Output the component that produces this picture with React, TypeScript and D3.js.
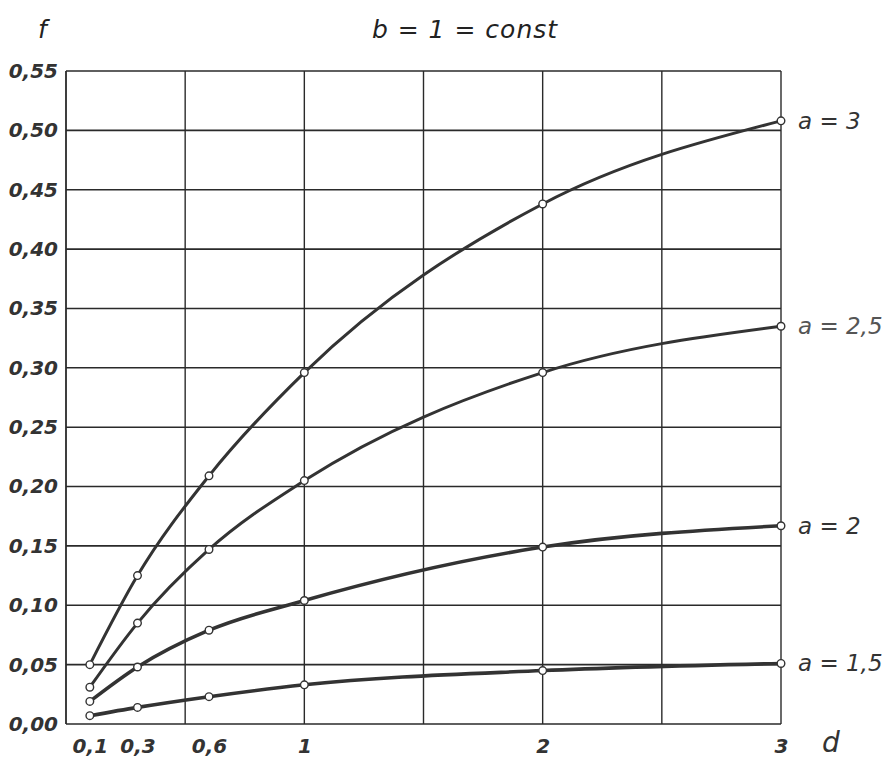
import React, { useEffect, useRef } from 'react';
import * as d3 from 'd3';

// values
const dValues = [0.1, 0.3, 0.6, 1, 2, 3];
const seriesNames = ['a = 3', 'a = 2,5', 'a = 2', 'a = 1,5'];
const fA3 = [0.050, 0.125, 0.209, 0.296, 0.438, 0.508];
const fA25 = [0.031, 0.085, 0.147, 0.205, 0.296, 0.335];
const fA2 = [0.019, 0.048, 0.079, 0.104, 0.149, 0.167];
const fA15 = [0.007, 0.014, 0.023, 0.033, 0.045, 0.051];
const seriesValues = [fA3, fA25, fA2, fA15];

const yTicks = d3.range(0, 0.5501, 0.05);
const xGrid = [0.5, 1, 1.5, 2, 2.5, 3];
const xTickLabels = [0.1, 0.3, 0.6, 1, 2, 3];

const fmt = (v: number, digits: number) => v.toFixed(digits).replace('.', ',');

export default function App() {
  const svgRef = useRef<SVGSVGElement>(null);

  useEffect(() => {
    const W = 888, H = 765;
    const margin = { top: 71, right: 107, bottom: 41, left: 66 };
    const width = W - margin.left - margin.right;
    const height = H - margin.top - margin.bottom;

    const x = d3.scaleLinear().domain([0, 3]).range([0, width]);
    const y = d3.scaleLinear().domain([0, 0.55]).range([height, 0]);

    const root = d3.select(svgRef.current);
    root.selectAll('*').remove();
    const svg = root.append('g').attr('transform', `translate(${margin.left},${margin.top})`);

    const font = "'DejaVu Sans', sans-serif";
    const ink = '#2a2a2a';

    // grid
    svg.append('g')
      .selectAll('line')
      .data(yTicks)
      .join('line')
      .attr('x1', 0).attr('x2', width)
      .attr('y1', d => y(d)).attr('y2', d => y(d))
      .attr('stroke', ink).attr('stroke-width', 1.6);

    svg.append('g')
      .selectAll('line')
      .data(xGrid)
      .join('line')
      .attr('x1', d => x(d)).attr('x2', d => x(d))
      .attr('y1', 0).attr('y2', height)
      .attr('stroke', ink).attr('stroke-width', 1.4);

    svg.append('line')
      .attr('x1', 0).attr('x2', 0).attr('y1', 0).attr('y2', height)
      .attr('stroke', ink).attr('stroke-width', 1.8);

    // axes (labels only)
    const yAxis = svg.append('g')
      .call(d3.axisLeft(y).tickValues(yTicks).tickSize(0).tickPadding(8).tickFormat(d => fmt(+d, 2)));
    yAxis.select('.domain').remove();
    yAxis.selectAll('text')
      .attr('font-family', font).attr('font-style', 'italic').attr('font-size', 20)
      .attr('font-weight', 600).attr('fill', '#333');

    const xAxis = svg.append('g')
      .attr('transform', `translate(0,${height})`)
      .call(d3.axisBottom(x).tickValues(xTickLabels).tickSize(0).tickPadding(15)
        .tickFormat(d => (+d < 1 ? fmt(+d, 1) : String(d))));
    xAxis.select('.domain').remove();
    xAxis.selectAll('text')
      .attr('font-family', font).attr('font-style', 'italic').attr('font-size', 20)
      .attr('font-weight', 600).attr('fill', '#333');

    // curves
    const line = d3.line<number>()
      .x((_, i) => x(dValues[i]))
      .y(d => y(d))
      .curve(d3.curveMonotoneX);

    seriesValues.forEach((vals, si) => {
      svg.append('path')
        .datum(vals)
        .attr('d', line)
        .attr('fill', 'none')
        .attr('stroke', '#333')
        .attr('stroke-width', si === 0 || si === 1 ? 3 : 3.6);

      svg.append('g')
        .selectAll('circle')
        .data(vals)
        .join('circle')
        .attr('cx', (_, i) => x(dValues[i]))
        .attr('cy', d => y(d))
        .attr('r', 3.8)
        .attr('fill', '#fff')
        .attr('stroke', '#333')
        .attr('stroke-width', 1.4);

      svg.append('text')
        .attr('x', x(3) + 17)
        .attr('y', y(vals[vals.length - 1]))
        .attr('dy', '0.35em')
        .attr('font-family', font).attr('font-style', 'italic').attr('font-size', 23)
        .attr('fill', si === 1 ? '#555' : '#333')
        .text(seriesNames[si]);
    });

    // titles
    root.append('text')
      .attr('x', 465).attr('y', 38)
      .attr('text-anchor', 'middle')
      .attr('font-family', font).attr('font-style', 'italic').attr('font-size', 25)
      .attr('letter-spacing', 1)
      .attr('fill', '#222')
      .text('b = 1 = const');

    root.append('text')
      .attr('x', 38).attr('y', 38)
      .attr('font-family', font).attr('font-style', 'italic').attr('font-size', 25)
      .attr('fill', '#222')
      .text('f');

    root.append('text')
      .attr('x', 822).attr('y', 752)
      .attr('font-family', font).attr('font-style', 'italic').attr('font-size', 28)
      .attr('fill', '#333')
      .text('d');
  }, []);

  return (
    <svg ref={svgRef} width={888} height={765}
      style={{ position: 'absolute', left: 0, top: 0, background: '#fff' }} />
  );
}
